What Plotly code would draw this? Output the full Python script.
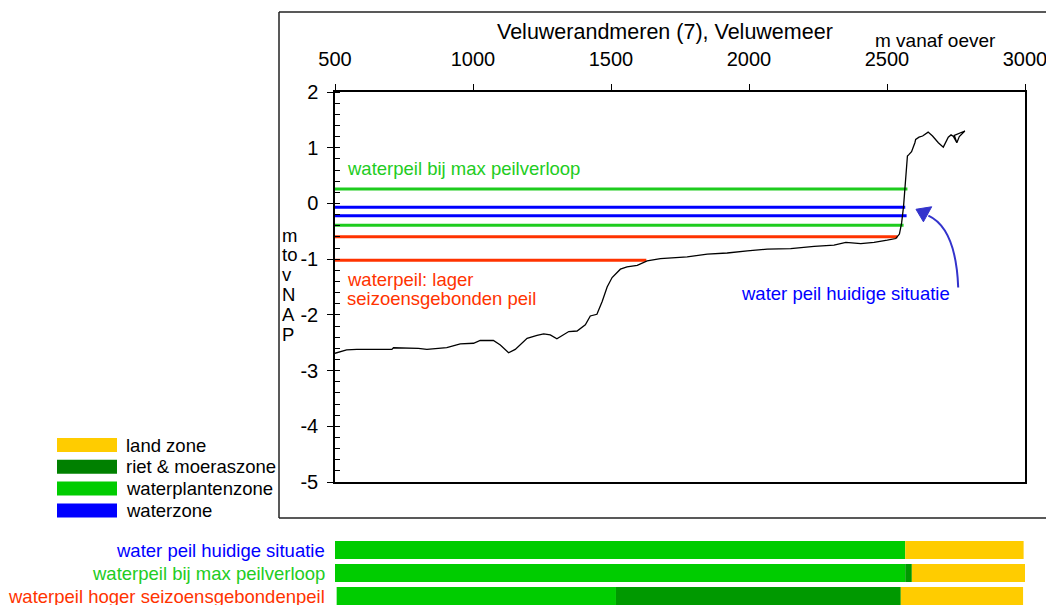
import plotly.graph_objects as go

# ---------------- data ----------------
profile_x = [500, 542, 579, 640, 706, 712, 802, 833, 905, 954, 1002, 1026, 1074, 1099, 1129, 1153,
             1196, 1232, 1256, 1280, 1304, 1347, 1377, 1407, 1425, 1449, 1468, 1486, 1504, 1534,
             1558, 1595, 1631, 1679, 1776, 1849, 1921, 1994, 2066, 2151, 2236, 2308, 2351, 2405,
             2453, 2501, 2532, 2545, 2553, 2560, 2566, 2574, 2580, 2589, 2601, 2604, 2616, 2629,
             2649, 2665, 2686, 2704, 2722, 2732, 2741, 2753, 2762, 2782, 2744, 2753]
profile_y = [-2.69, -2.63, -2.62, -2.62, -2.62, -2.59, -2.60, -2.62, -2.59, -2.52, -2.51, -2.46,
             -2.46, -2.54, -2.68, -2.62, -2.42, -2.37, -2.34, -2.36, -2.43, -2.30, -2.29, -2.18,
             -2.02, -1.99, -1.76, -1.50, -1.33, -1.18, -1.14, -1.11, -1.03, -0.99, -0.96, -0.91,
             -0.89, -0.85, -0.82, -0.81, -0.77, -0.75, -0.70, -0.72, -0.70, -0.66, -0.63, -0.55,
             -0.35, -0.05, 0.40, 0.85, 0.88, 0.93, 1.09, 1.15, 1.19, 1.21, 1.28, 1.21, 1.09, 1.01,
             1.19, 1.23, 1.20, 1.09, 1.20, 1.30, 1.22, 1.09]

level_values = [0.26, -0.07, -0.22, -0.39, -0.60, -1.02]
level_start = [500, 500, 500, 500, 500, 500]
level_end = [2574, 2566, 2571, 2560, 2538, 1628]
level_colors = ["#1ECC1E", "#0000FF", "#0000FF", "#1ECC1E", "#FF3300", "#FF3300"]

x_ticks = [500, 1000, 1500, 2000, 2500, 3000]
y_ticks = [2, 1, 0, -1, -2, -3, -4, -5]
y_tick_labels = ["2", "1", "0", "-1", "-2", "-3", "-4", "-5"]

rows = ["water peil huidige situatie", "waterpeil bij max peilverloop",
        "waterpeil hoger seizoensgebondenpeil"]
row_colors = ["#0000FF", "#22CC22", "#FF3300"]
plant_start = [500, 500, 506]
plant_end = [2566, 2566, 1518]
riet_end = [2566, 2590, 2550]
land_end = [2995, 3000, 2993]

legend_labels = ["land zone", "riet & moeraszone", "waterplantenzone", "waterzone"]
legend_colors = ["#FFCC00", "#008000", "#00CC00", "#0000FF"]

ylabel_letters = ["m", "to", "v", "N", "A", "P"]

FONT = "Liberation Sans, Arial, sans-serif"
W, H = 1046, 605
TXT = 18.5


def px(x):
    return x / W


def py(y):
    return 1 - y / H


fig = go.Figure()

# water level lines
for v, s, e, c in zip(level_values, level_start, level_end, level_colors):
    fig.add_trace(go.Scatter(x=[s, e], y=[v, v], mode="lines",
                             line=dict(color=c, width=3), showlegend=False,
                             hoverinfo="skip", xaxis="x", yaxis="y"))

# bottom profile
fig.add_trace(go.Scatter(x=profile_x, y=profile_y, mode="lines",
                         line=dict(color="black", width=1.3), showlegend=False,
                         xaxis="x", yaxis="y"))

# zone bars
bar_specs = [
    ("waterplantenzone", plant_start, plant_end, "#00CC00"),
    ("riet & moeraszone", plant_end, riet_end, "#009900"),
    ("land zone", riet_end, land_end, "#FFCC00"),
]
for name, starts, ends, col in bar_specs:
    fig.add_trace(go.Bar(orientation="h", y=rows, base=starts,
                         x=[e - s for s, e in zip(starts, ends)],
                         marker=dict(color=col, line=dict(width=0)), width=0.78,
                         name=name, showlegend=False, xaxis="x2", yaxis="y2"))

ann = []


def note(text, x, y, xref="paper", yref="paper", size=TXT, color="black", xanchor="center"):
    ann.append(dict(text=text, x=x, y=y, xref=xref, yref=yref, xanchor=xanchor,
                    yanchor="middle", showarrow=False,
                    font=dict(size=size, color=color, family=FONT)))


# title
note("Veluwerandmeren (7), Veluwemeer", px(665), py(32), size=21.5)
note("m vanaf oever", px(935), py(41), size=19)
# y label letters
for i, t in enumerate(ylabel_letters):
    note(t, px(280), py(235 + i * 19.8), xanchor="left")
# in-plot texts
note("waterpeil bij max peilverloop", 538, 0.62, "x", "y", color="#22CC22", xanchor="left")
note("waterpeil: lager", 538, -1.37, "x", "y", color="#FF3300", xanchor="left")
note("seizoensgebonden peil", 538, -1.71, "x", "y", color="#FF3300", xanchor="left")
note("water peil huidige situatie", 1965, -1.61, "x", "y", color="#0000FF", xanchor="left")
# row labels
for r, c in zip(rows, row_colors):
    note(r, px(327), r, "paper", "y2", color=c, xanchor="right")
# legend
shapes = []
for i, (lab, col) in enumerate(zip(legend_labels, legend_colors)):
    yc = 445 + i * 21.8
    shapes.append(dict(type="rect", xref="paper", yref="paper", x0=px(57), x1=px(117),
                       y0=py(yc - 7), y1=py(yc + 7), fillcolor=col, line=dict(width=0)))
    note(lab, px(124), py(yc), xanchor="left")

# outer frame
fl = dict(color="#222222", width=1.5)
shapes.append(dict(type="line", xref="paper", yref="paper", x0=px(279), x1=px(279),
                   y0=py(12), y1=py(518), line=fl))
shapes.append(dict(type="line", xref="paper", yref="paper", x0=px(279), x1=1.0,
                   y0=py(12), y1=py(12), line=fl))
shapes.append(dict(type="line", xref="paper", yref="paper", x0=px(279), x1=1.0,
                   y0=py(518), y1=py(518), line=fl))

# curved arrow
shapes.append(dict(type="path", xref="x", yref="y",
                   path="M 2758,-1.51 Q 2750,-0.45 2650,-0.22",
                   line=dict(color="#3333CC", width=2)))
shapes.append(dict(type="path", xref="x", yref="y",
                   path="M 2605,-0.105 L 2662,-0.06 L 2632,-0.33 Z",
                   fillcolor="#3333CC", line=dict(color="#3333CC", width=1)))

fig.update_layout(
    template="none",
    width=W, height=H,
    margin=dict(l=0, r=0, t=0, b=0, autoexpand=False),
    paper_bgcolor="white", plot_bgcolor="white",
    barmode="overlay",
    font=dict(family=FONT, size=16, color="black"),
    xaxis=dict(domain=[335 / W, 1025 / W], range=[500, 3000], side="top",
               tickvals=x_ticks, ticks="outside", ticklen=6, tickcolor="black",
               showline=True, linecolor="black", linewidth=1.5, mirror=True,
               showgrid=False, zeroline=False, anchor="y", automargin=False,
               ticklabeloverflow="allow",
               tickfont=dict(size=20, family=FONT, color="black"), ticklabelstandoff=10),
    yaxis=dict(domain=[py(482), py(92)], range=[-5, 2], tickvals=y_ticks,
               ticktext=y_tick_labels,
               ticks="outside", ticklen=6, tickcolor="black",
               minor=dict(dtick=0.2, ticks="inside", ticklen=5, tickcolor="black"),
               showline=True, linecolor="black", linewidth=1.5, mirror=True,
               showgrid=False, zeroline=False, anchor="x", automargin=False,
               tickfont=dict(size=20, family=FONT, color="black"), ticklabelstandoff=5),
    xaxis2=dict(domain=[335 / W, 1025 / W], range=[500, 3000], visible=False,
                anchor="y2", fixedrange=True, automargin=False),
    yaxis2=dict(domain=[0, py(538.5)], range=[2.39, -0.5], visible=False,
                anchor="x2", fixedrange=True, automargin=False),
    annotations=ann,
    shapes=shapes,
)

fig.write_html("out.html", config={"displayModeBar": False},
               post_script="document.body.style.margin='0px';"
                           "document.body.style.overflow='hidden';")
